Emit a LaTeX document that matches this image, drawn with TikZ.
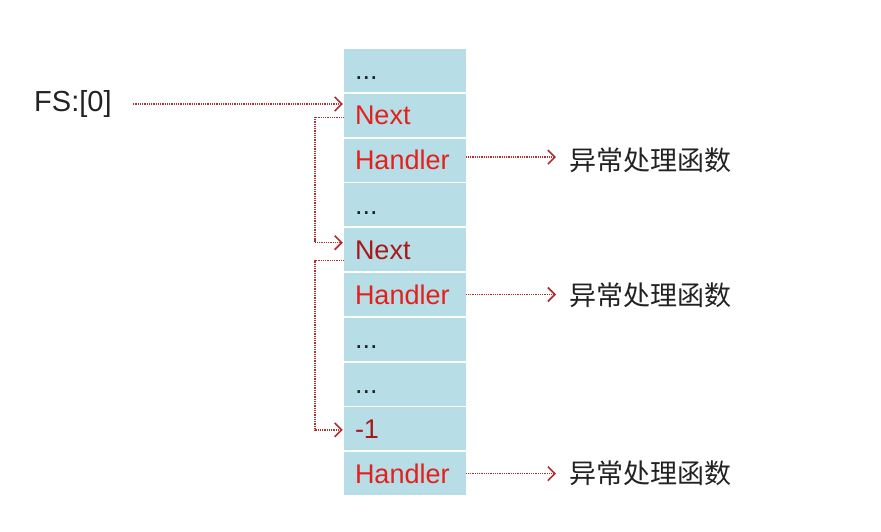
\documentclass[tikz,border=0pt]{standalone}
\usepackage{fontspec}
\setmainfont{Liberation Sans}
\newfontfamily\cjk{Noto Sans CJK SC}
\usetikzlibrary{arrows.meta,calc}
\definecolor{cellblue}{RGB}{183,221,230}
\definecolor{txtred}{RGB}{228,32,28}
\definecolor{drkred}{RGB}{168,24,24}
\definecolor{linered}{RGB}{178,48,48}
\definecolor{txtgray}{RGB}{34,34,34}
\begin{document}
\begin{tikzpicture}[x=1pt,y=-1pt,
  cell/.style={fill=cellblue, minimum width=122pt, minimum height=43pt,
    text width=100pt, align=left, inner xsep=11pt, inner ysep=0pt,
    text height=19pt, text depth=0pt, font=\fontsize{27}{30}\selectfont},
  ptr/.style={draw=linered, line width=1.5pt, dash pattern=on 1pt off 0.8pt,
    -{Straight Barb[length=7pt,width=14pt,line width=1.6pt,sep=0pt]}},
  fn/.style={anchor=west, inner sep=0pt, text=txtgray, font=\cjk\fontsize{27}{30}\selectfont},
]
\useasboundingbox (0,0) rectangle (881,532);

\node[cell, text=txtgray] (c0) at (405,70.5) {...};
\node[cell, text=txtred]  (c1) at (405,115.3) {Next};
\node[cell, text=txtred]  (c2) at (405,160.1) {Handler};
\node[cell, text=txtgray] (c3) at (405,204.9) {...};
\node[cell, text=drkred]  (c4) at (405,249.7) {Next};
\node[cell, text=txtred]  (c5) at (405,294.5) {Handler};
\node[cell, text=txtgray] (c6) at (405,339.3) {...};
\node[cell, text=txtgray] (c7) at (405,384.1) {...};
\node[cell, text=drkred]  (c8) at (405,428.9) {-1};
\node[cell, text=txtred]  (c9) at (405,473.7) {Handler};

\node[anchor=west, inner sep=0pt, text=txtgray, font=\fontsize{29}{31}\selectfont] (fs) at (34,104) {FS:[0]};

\node[fn] (f1) at (569,160) {异常处理函数};
\node[fn] (f2) at (569,295) {异常处理函数};
\node[fn] (f3) at (569,473) {异常处理函数};

% FS:[0] -> first Next
\draw[ptr, shorten <=21pt, shorten >=1pt] (fs.east) -- (fs.east -| c1.west);

% chain links
\draw[ptr, shorten >=1pt] ($(c1.west)+(0,2)$) -- ++(-29,0) |- ($(c4.west)+(0,-7)$);
\draw[ptr, shorten >=1pt] ($(c4.west)+(0,11)$) -- ++(-29,0) |- ($(c8.west)+(0,1)$);

% handlers
\draw[ptr, shorten >=13pt] ($(c2.east)+(0,-3)$) -- (f1.west |- {$(c2.east)+(0,-3)$});
\draw[ptr, shorten >=13pt] ($(c5.east)+(0,0)$) -- (f2.west |- c5.east);
\draw[ptr, shorten >=13pt] ($(c9.east)+(0,0)$) -- (f3.west |- c9.east);
\end{tikzpicture}
\end{document}
